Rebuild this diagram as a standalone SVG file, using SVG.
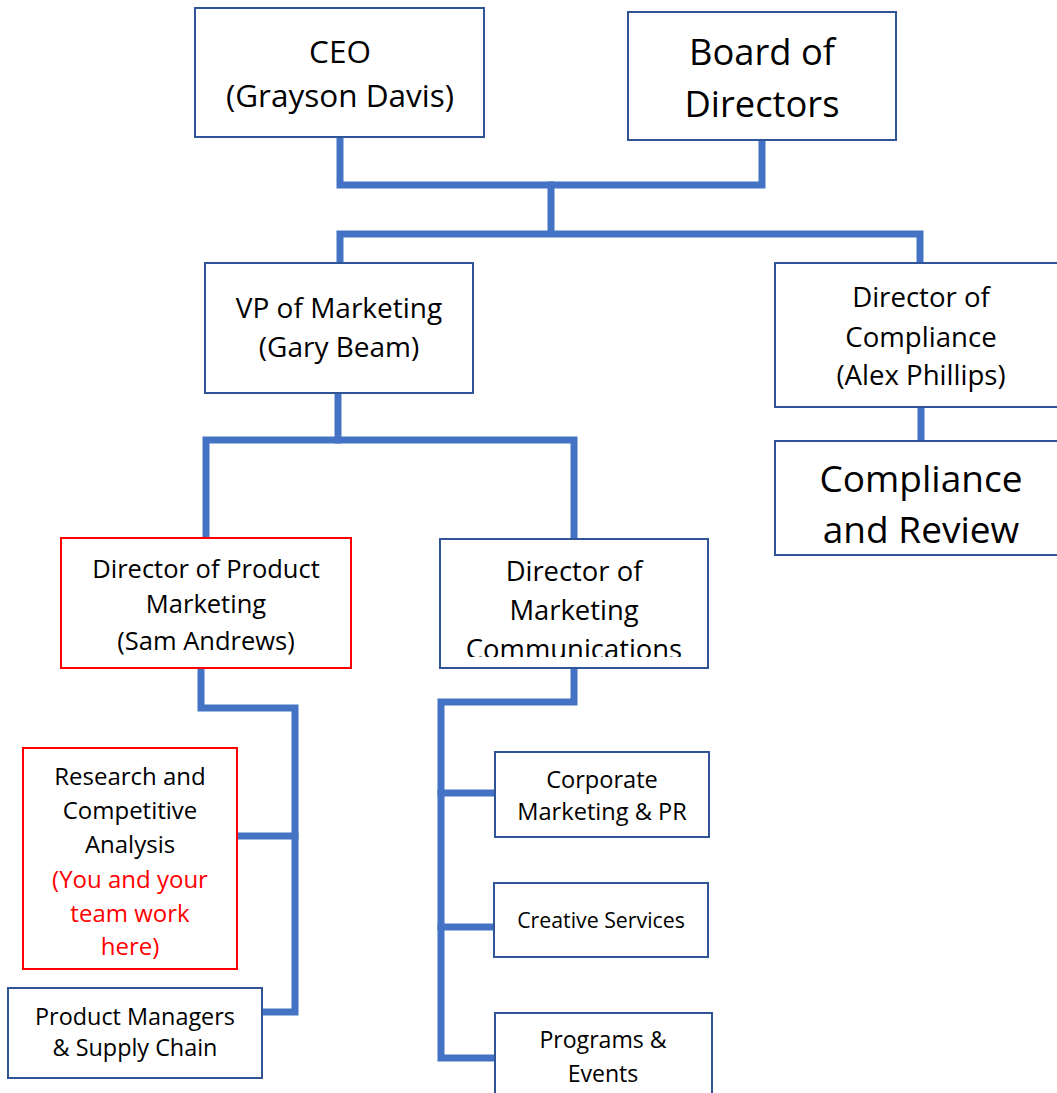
<svg xmlns="http://www.w3.org/2000/svg" width="1057" height="1093" viewBox="0 0 1057 1093">
<style>
  .box { fill: #ffffff; stroke: #2F5597; stroke-width: 2; }
  .red { fill: #ffffff; stroke: #FF0000; stroke-width: 2; }
  .conn { fill: none; stroke: #4472C4; stroke-width: 7; stroke-linejoin: miter; stroke-linecap: square; }
  text { font-family: "Open Sans", "Liberation Sans", sans-serif; fill: #000000; text-anchor: middle; }
  .rt { fill: #FF0000; }
</style>
<defs>
  <clipPath id="clipComms"><rect x="441" y="540" width="266" height="117"/></clipPath>
</defs>
<rect width="1057" height="1093" fill="#ffffff"/>
<g id="connectors">
  <path class="conn" d="M340,138 V185 H762 V141"/>
  <path class="conn" d="M551,185 V233"/>
  <path class="conn" d="M340,262 V234 H920 V262"/>
  <path class="conn" d="M338,394 V440"/>
  <path class="conn" d="M206,537 V440 H574 V537"/>
  <path class="conn" d="M921,408 V440"/>
  <path class="conn" d="M201,669 V708 H295 V1012 H264"/>
  <path class="conn" d="M239,836 H295"/>
  <path class="conn" d="M574,669 V702 H441 V1058 H494"/>
  <path class="conn" d="M441,793 H494"/>
  <path class="conn" d="M441,927 H493"/>
</g>
<g id="ceo">
  <rect class="box" x="195" y="8" width="289" height="129"/>
  <text x="340" y="63" font-size="31.5">CEO</text>
  <text x="340" y="107" font-size="31.5">(Grayson Davis)</text>
</g>
<g id="board">
  <rect class="box" x="628" y="12" width="268" height="128"/>
  <text x="762" y="65" font-size="36.3">Board of</text>
  <text x="762" y="117" font-size="36.3">Directors</text>
</g>
<g id="vp-marketing">
  <rect class="box" x="205" y="263" width="268" height="130"/>
  <text x="339" y="318" font-size="28">VP of Marketing</text>
  <text x="339" y="357" font-size="28">(Gary Beam)</text>
</g>
<g id="dir-compliance">
  <rect class="box" x="775" y="263" width="292" height="144"/>
  <text x="921" y="307" font-size="27.6">Director of</text>
  <text x="921" y="347" font-size="27.6">Compliance</text>
  <text x="921" y="385" font-size="27.6">(Alex Phillips)</text>
</g>
<g id="compliance-review">
  <rect class="box" x="775" y="441" width="292" height="114"/>
  <text x="921" y="492" font-size="37">Compliance</text>
  <text x="921" y="543" font-size="37">and Review</text>
</g>
<g id="dir-product">
  <rect class="red" x="61" y="538" width="290" height="130"/>
  <text x="206" y="578" font-size="25.5">Director of Product</text>
  <text x="206" y="613" font-size="25.5">Marketing</text>
  <text x="206" y="650" font-size="25.5">(Sam Andrews)</text>
</g>
<g id="dir-comms">
  <rect class="box" x="440" y="539" width="268" height="129"/>
  <g clip-path="url(#clipComms)">
    <text x="574" y="581" font-size="27.4">Director of</text>
    <text x="574" y="620" font-size="27.4">Marketing</text>
    <text x="574" y="659" font-size="27.4">Communications</text>
  </g>
</g>
<g id="research">
  <rect class="red" x="23" y="748" width="214" height="221"/>
  <text x="130" y="785" font-size="24">Research and</text>
  <text x="130" y="819" font-size="24">Competitive</text>
  <text x="130" y="853" font-size="24">Analysis</text>
  <text class="rt" x="130" y="888" font-size="24">(You and your</text>
  <text class="rt" x="130" y="922" font-size="24">team work</text>
  <text class="rt" x="130" y="955" font-size="24">here)</text>
</g>
<g id="product-managers">
  <rect class="box" x="8" y="988" width="254" height="90"/>
  <text x="135" y="1025" font-size="23.4">Product Managers</text>
  <text x="135" y="1056" font-size="23.4">&amp; Supply Chain</text>
</g>
<g id="corporate">
  <rect class="box" x="495" y="752" width="214" height="85"/>
  <text x="602" y="788" font-size="23.6">Corporate</text>
  <text x="602" y="820" font-size="23.6">Marketing &amp; PR</text>
</g>
<g id="creative">
  <rect class="box" x="494" y="883" width="214" height="74"/>
  <text x="601" y="928" font-size="21.3">Creative Services</text>
</g>
<g id="programs">
  <rect class="box" x="495" y="1013" width="217" height="90"/>
  <text x="603" y="1048" font-size="23.1">Programs &amp;</text>
  <text x="603" y="1082" font-size="23.1">Events</text>
</g>
</svg>
